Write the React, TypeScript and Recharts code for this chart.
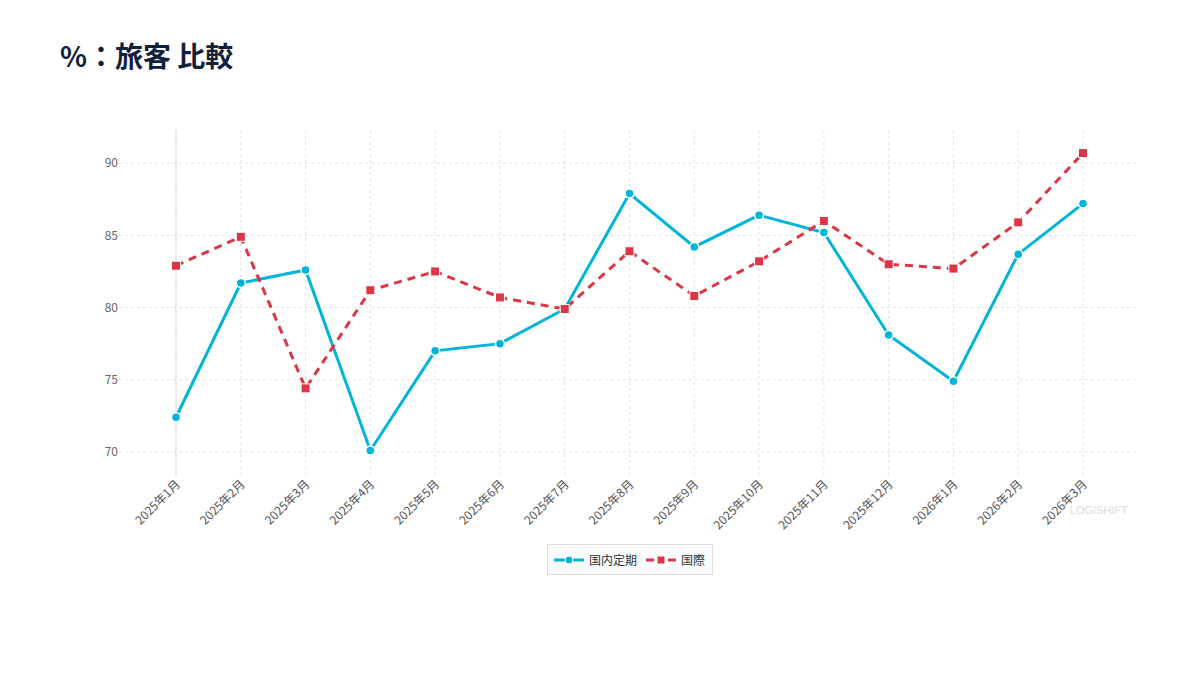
import React from 'react'
import {
  LineChart,
  Line,
  XAxis,
  YAxis,
  CartesianGrid,
  Legend
} from 'recharts'

// 月ラベル
const months = [
  '2025年1月', '2025年2月', '2025年3月', '2025年4月', '2025年5月',
  '2025年6月', '2025年7月', '2025年8月', '2025年9月', '2025年10月',
  '2025年11月', '2025年12月', '2026年1月', '2026年2月', '2026年3月'
]
const domestic = [72.4, 81.7, 82.6, 70.1, 77.0, 77.5, 79.9, 87.9, 84.2, 86.4, 85.2, 78.1, 74.9, 83.7, 87.2]
const international = [82.9, 84.9, 74.4, 81.2, 82.5, 80.7, 79.9, 83.9, 80.8, 83.2, 86.0, 83.0, 82.7, 85.9, 90.7]
const yTicks = [70, 75, 80, 85, 90]

const BLUE = '#00b4d8'
const RED = '#dc3545'
const FONT = '"Noto Sans CJK JP", "Noto Sans", sans-serif'

const data = months.map((m, i) => ({
  name: m,
  domestic: domestic[i],
  international: international[i]
}))

const XTick = (props: any) => {
  const { x, y, payload } = props
  return (
    <text
      x={x + 5}
      y={y + 2}
      transform={`rotate(-45, ${x + 5}, ${y + 2})`}
      textAnchor='end'
      fontSize={12}
      fill='#555'
      fontFamily={FONT}
    >
      {payload.value}
    </text>
  )
}

const SquareDot = (props: any) => {
  const { cx, cy, index } = props
  if (cx == null || cy == null) return null
  return (
    <rect
      key={'sq' + index}
      x={cx - 4.5}
      y={cy - 4.5}
      width={9}
      height={9}
      fill={RED}
      stroke='#fff'
      strokeWidth={1}
    />
  )
}

// recharts 3 のスケールは関数ではなく map() を持つオブジェクト
const toPx = (sc: any, v: any) => {
  if (!sc) return null
  if (typeof sc === 'function') return sc(v)
  if (typeof sc.map === 'function') return sc.map(v)
  return null
}

// グリッドは目盛り位置だけに引く（外枠の線は不要）
const vGrid = (args: any) => {
  const sc = args?.xAxis?.scale
  return months.map(m => toPx(sc, m)).filter(p => p != null)
}
const firstCol = (args: any) => {
  const p = toPx(args?.xAxis?.scale, months[0])
  return p == null ? [] : [p]
}
const hGrid = (args: any) => {
  const sc = args?.yAxis?.scale
  return yTicks.map(t => toPx(sc, t)).filter(p => p != null)
}

const renderLegend = () => (
  <div style={{ display: 'flex', justifyContent: 'center' }}>
    <div
      style={{
        display: 'flex',
        alignItems: 'center',
        gap: 9,
        padding: '0 7px 0 6px',
        height: 29,
        border: '1px solid #ddd',
        background: '#fafbfc',
        fontSize: 12,
        color: '#333',
        fontFamily: FONT
      }}
    >
      <span style={{ display: 'flex', alignItems: 'center', gap: 5 }}>
        <svg width={30} height={10}>
          <line x1={0} y1={5} x2={30} y2={5} stroke={BLUE} strokeWidth={3} />
          <circle cx={15} cy={5} r={4} fill={BLUE} stroke='#fff' strokeWidth={1} />
        </svg>
        国内定期
      </span>
      <span style={{ display: 'flex', alignItems: 'center', gap: 5 }}>
        <svg width={30} height={10}>
          <line x1={0} y1={5} x2={30} y2={5} stroke={RED} strokeWidth={3} strokeDasharray='8 3' />
          <rect x={11} y={1} width={8} height={8} fill={RED} stroke='#fff' strokeWidth={1} />
        </svg>
        国際
      </span>
    </div>
  </div>
)

export default function App() {
  return (
    <div
      style={{
        position: 'absolute',
        top: 0,
        left: 0,
        width: 1200,
        height: 675,
        background: '#fff',
        fontFamily: FONT
      }}
    >
      <div
        style={{
          position: 'absolute',
          left: 60,
          top: 35,
          fontSize: 28,
          fontWeight: 700,
          color: '#13203a',
          whiteSpace: 'nowrap'
        }}
      >
        %：旅客 比較
      </div>
      <div style={{ position: 'absolute', top: 0, left: 0 }}>
        <LineChart
          width={1200}
          height={675}
          data={data}
          margin={{ top: 130, right: 62, left: 67, bottom: 140 }}
        >
          <CartesianGrid
            strokeDasharray='3 3'
            stroke='#e2e2e2'
            verticalCoordinatesGenerator={vGrid}
            horizontalCoordinatesGenerator={hGrid}
          />
          <CartesianGrid
            horizontal={false}
            stroke='#dddddd'
            verticalCoordinatesGenerator={firstCol}
          />
          <XAxis
            dataKey='name'
            padding={{ left: 57, right: 55 }}
            axisLine={false}
            tickLine={false}
            interval={0}
            height={60}
            tick={<XTick />}
          />
          <YAxis
            type='number'
            domain={[68.4, 92.3]}
            ticks={yTicks}
            allowDataOverflow
            width={52}
            axisLine={false}
            tickLine={false}
            tickSize={0}
            tickMargin={1}
            tick={{ fontSize: 12, fill: '#666', fontFamily: FONT }}
          />
          <Legend
            layout='horizontal'
            verticalAlign='middle'
            content={renderLegend}
            wrapperStyle={{ top: 544, left: 122, width: 1016 }}
          />
          <Line
            type='linear'
            dataKey='domestic'
            name='国内定期'
            stroke={BLUE}
            strokeWidth={3}
            dot={{ r: 4.5, fill: BLUE, stroke: '#fff', strokeWidth: 1.5 }}
            activeDot={false}
            isAnimationActive={false}
          />
          <Line
            type='linear'
            dataKey='international'
            name='国際'
            stroke={RED}
            strokeWidth={3}
            strokeDasharray='8 6'
            dot={SquareDot}
            activeDot={false}
            isAnimationActive={false}
          />
        </LineChart>
      </div>
      <div
        style={{
          position: 'absolute',
          left: 1070,
          top: 504,
          fontSize: 11,
          color: '#dcdcdc',
          fontFamily: '"Liberation Sans", Arial, sans-serif'
        }}
      >
        LOGISHIFT
      </div>
    </div>
  )
}
